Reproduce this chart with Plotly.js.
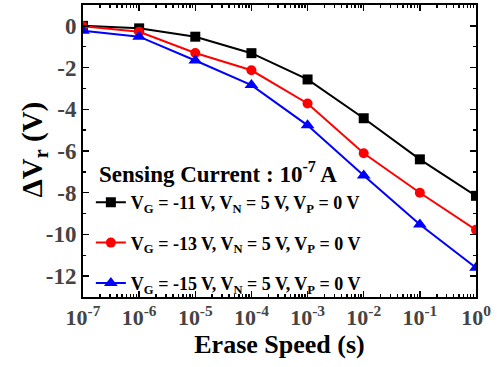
<!DOCTYPE html>
<html>
<head>
<meta charset="utf-8">
<script src="https://cdn.plot.ly/plotly-3.0.1.min.js"></script>
<style>
html,body{margin:0;padding:0;background:#fff;}
#chart{width:498px;height:367px;}
.xtick text{font-size:22px;}
.ytick text{font-size:23px;}
</style>
</head>
<body>
<div id="chart"></div>
<script>
// Erase speed (s)
const eraseSpeed = [1e-7, 1e-6, 1e-5, 1e-4, 1e-3, 1e-2, 1e-1, 1e0];
// Threshold voltage shift (V)
const dVr_VG11 = [0.0, -0.12, -0.52, -1.31, -2.57, -4.43, -6.40, -8.15];
const dVr_VG13 = [-0.02, -0.28, -1.30, -2.13, -3.72, -6.11, -8.00, -9.78];
const dVr_VG15 = [-0.24, -0.52, -1.66, -2.84, -4.77, -7.17, -9.52, -11.60];
const seriesNames = [
  'V<sub>G</sub> = -11 V, V<sub>N</sub> = 5 V, V<sub>P</sub> = 0 V',
  'V<sub>G</sub> = -13 V, V<sub>N</sub> = 5 V, V<sub>P</sub> = 0 V',
  'V<sub>G</sub> = -15 V, V<sub>N</sub> = 5 V, V<sub>P</sub> = 0 V'
];
const xTickVals = [1e-7, 1e-6, 1e-5, 1e-4, 1e-3, 1e-2, 1e-1, 1e0];
const xTickText = ['10<sup>-7</sup>','10<sup>-6</sup>','10<sup>-5</sup>','10<sup>-4</sup>','10<sup>-3</sup>','10<sup>-2</sup>','10<sup>-1</sup>','10<sup>0</sup>'];
const yTickVals = [0, -2, -4, -6, -8, -10, -12];
const yTickText = ['0', '-2', '-4', '-6', '-8', '-10', '-12'];
const legendTitle = 'Sensing Current : 10<sup>-7</sup> A';
const xTitle = 'Erase Speed (s)';
const yTitle = 'ΔV<sub>r</sub> (V)';

const FONT = 'Liberation Serif, serif';
const colors = ['#000000', '#ff0000', '#0000ff'];
const symbols = ['square', 'circle', 'triangle-up'];
const ys = [dVr_VG11, dVr_VG13, dVr_VG15];

const traces = ys.map((y, i) => ({
  x: eraseSpeed, y: y, type: 'scatter', mode: 'lines+markers',
  name: seriesNames[i], legendgroup: 'g' + i,
  line: {color: colors[i], width: 2},
  marker: {symbol: symbols[i], size: i === 2 ? 12 : 10, color: colors[i]}
}));

const layout = {
  width: 498, height: 367,
  margin: {l: 83, r: 22, t: 5, b: 70},
  paper_bgcolor: '#fff', plot_bgcolor: '#fff',
  showlegend: true,
  xaxis: {
    type: 'log', range: [-7, 0],
    tickvals: xTickVals, ticktext: xTickText,
    tickfont: {family: FONT, size: 22, weight: 'bold'},
    showline: true, linecolor: '#000', linewidth: 2, mirror: 'ticks',
    ticks: 'inside', ticklen: 6, tickwidth: 1.5, tickcolor: '#000',
    showgrid: false, zeroline: false,
    minor: {ticks: 'inside', ticklen: 3, tickcolor: '#000', dtick: 'D1'},
    title: {text: xTitle, font: {family: FONT, size: 26, weight: 'bold', color: '#000'}, standoff: 2}
  },
  yaxis: {
    range: [-13, 1],
    tickvals: yTickVals, ticktext: yTickText,
    tickfont: {family: FONT, size: 23, weight: 'bold'},
    showline: true, linecolor: '#000', linewidth: 2, mirror: 'ticks',
    ticks: 'inside', ticklen: 6, tickwidth: 1.5, tickcolor: '#000',
    showgrid: false, zeroline: false,
    minor: {ticks: 'inside', ticklen: 3, tickcolor: '#000', dtick: 1}
  },
  annotations: [{
    text: legendTitle, xref: 'paper', yref: 'paper',
    x: 0.035, y: 0.425, xanchor: 'left', yanchor: 'middle', showarrow: false,
    font: {family: FONT, size: 23, color: '#000', weight: 'bold'}
  }, {
    text: yTitle, xref: 'paper', yref: 'paper', textangle: -90,
    x: -0.125, y: 0.505, xanchor: 'center', yanchor: 'middle', showarrow: false,
    font: {family: FONT, size: 29, color: '#000', weight: 'bold'}
  }],
  legend: {
    x: 0.02, y: 0.387, xanchor: 'left', yanchor: 'top',
    bgcolor: 'rgba(0,0,0,0)', borderwidth: 0,
    font: {family: FONT, size: 18, color: '#000', weight: 'bold'},
    traceorder: 'grouped', tracegroupgap: 14, itemwidth: 30
  }
};

Plotly.newPlot('chart', traces, layout, {displayModeBar: false, staticPlot: true});
</script>
</body>
</html>
